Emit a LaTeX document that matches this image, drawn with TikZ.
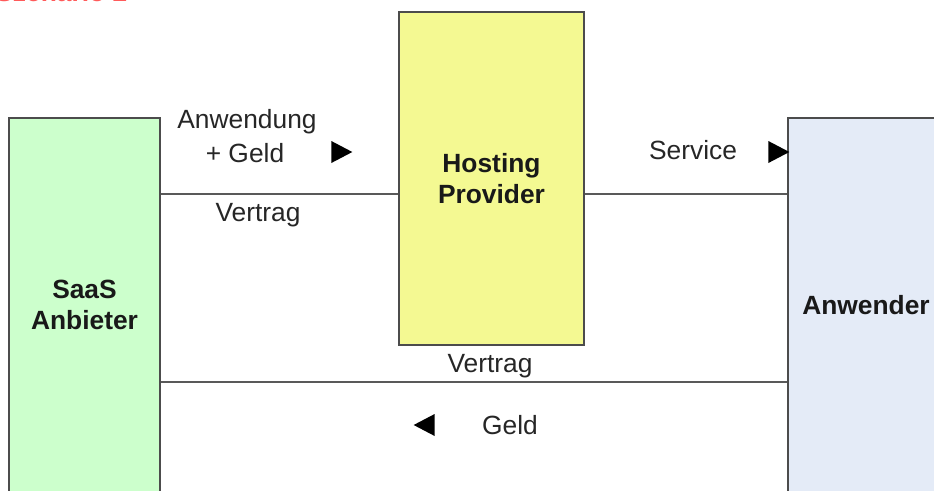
\documentclass[tikz,border=0pt]{standalone}
\usepackage{fontspec}
\setmainfont{Liberation Sans}
\usepackage{tikz}
\usetikzlibrary{shapes.geometric}
\tikzset{>=latex}
\definecolor{saasgreen}{RGB}{204,255,204}
\definecolor{hostyellow}{RGB}{244,249,146}
\definecolor{userblue}{RGB}{228,235,247}
\definecolor{titlered}{RGB}{255,90,90}
\tikzset{
  party/.style={draw=black!70, line width=0.9pt, inner sep=0pt, align=center, text=black!90,
                font=\fontsize{15}{18}\selectfont\bfseries},
  rel/.style={draw=black!65, line width=1pt},
  lbl/.style={font=\fontsize{15}{17.5}\selectfont, text=black!85, align=center, inner sep=0pt},
  tri/.style={isosceles triangle, isosceles triangle stretches, fill=black, inner sep=0pt,
              minimum width=0.44cm, minimum height=0.42cm}
}

\begin{document}
\begin{tikzpicture}
      \useasboundingbox (0,0) rectangle (18.68,9.8);
      \node (title) at (-0.1,9.77) [anchor=base west, font=\fontsize{15}{17}\selectfont\bfseries, text=titlered, inner sep=0pt] {Szenario 2};
      % the three parties
      \node (saas) at (1.69,3.7) [party, fill=saasgreen, minimum width=3.02cm, minimum height=7.48cm] {SaaS\\Anbieter};
      \node (host) at (9.83,6.23) [party, fill=hostyellow, minimum width=3.7cm, minimum height=6.66cm] {Hosting\\Provider};
      \node (user) at (17.32,3.7) [party, fill=userblue, minimum width=3.12cm, minimum height=7.48cm] {Anwender};
      % contracts between them
      \draw[rel] (saas.east |- 0,5.92) -- (host.west |- 0,5.92);
      \draw[rel] (host.east |- 0,5.92) -- (user.west |- 0,5.92);
      \draw[rel] (saas.east |- 0,2.16) -- (user.west |- 0,2.16);
      % flows along the lines
      \node (anw) at (4.94,7.36) [lbl] {Anwendung};
      \node (geld1) at (4.9,6.74) [lbl] {+ Geld};
      \node (tri1) at (6.76,6.76) [tri] {};
      \node (vtr1) at (5.16,5.5) [lbl] {Vertrag};
      \node (serv) at (13.86,6.8) [lbl] {Service};
      \node (tri2) at (15.5,6.76) [tri] {};
      \node (vtr2) at (9.8,2.48) [lbl] {Vertrag};
      \node (tri3) at (8.56,1.3) [tri, shape border rotate=180] {};
      \node (geld2) at (10.2,1.3) [lbl] {Geld};
\end{tikzpicture}
\end{document}
